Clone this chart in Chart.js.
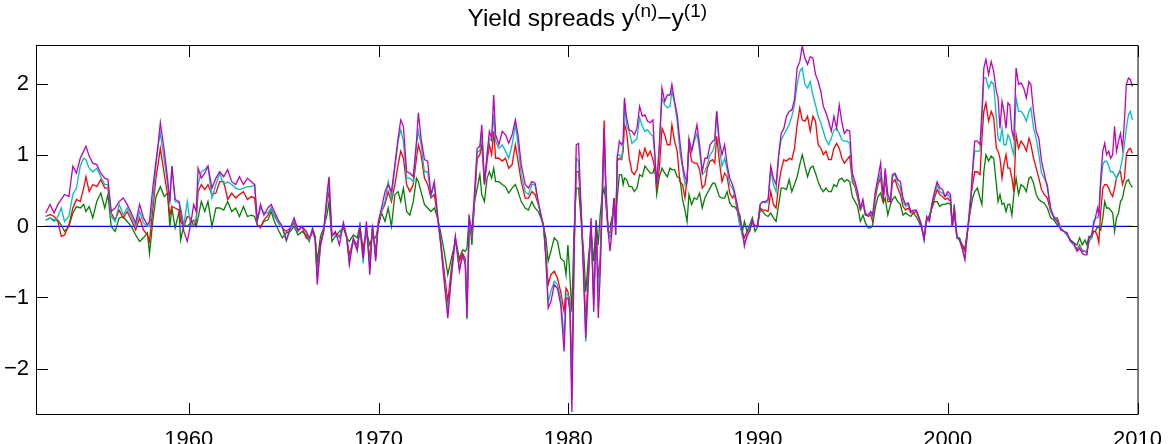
<!DOCTYPE html>
<html>
<head>
<meta charset="utf-8">
<script src="https://cdn.jsdelivr.net/npm/chart.js@4"></script>
<style>
  html, body { margin: 0; padding: 0; background: #fff; }
  #wrap { width: 1175px; height: 444px; }
</style>
</head>
<body>
<div id="wrap"><canvas id="spreads" width="1175" height="444"></canvas></div>
<script>
// Yield spreads y(n) - y(1)
const dates = [
  1952.46, 1952.69, 1952.90, 1953.10, 1953.28, 1953.45, 1953.68, 1953.89, 1954.08, 1954.28, 1954.46, 1954.58, 1954.75, 1954.94, 1955.15, 1955.36, 1955.57, 1955.74, 1955.91, 1956.12, 1956.33, 1956.54, 1956.75, 1956.97, 1957.20, 1957.41, 1957.61, 1957.82, 1957.93, 1958.10, 1958.27, 1958.39, 1958.50, 1958.71, 1958.88, 1959.00, 1959.11, 1959.28, 1959.49,
  1959.57, 1959.74, 1959.92, 1960.09, 1960.26, 1960.39, 1960.49, 1960.66, 1960.84, 1961.01, 1961.22, 1961.43, 1961.63, 1961.84, 1962.05, 1962.26, 1962.47, 1962.67, 1962.88, 1963.09, 1963.30, 1963.47, 1963.61, 1963.78, 1963.96, 1964.17, 1964.34, 1964.51, 1964.72, 1964.93, 1965.14, 1965.35, 1965.55, 1965.76, 1965.97, 1966.18, 1966.35, 1966.52, 1966.66, 1966.77,
  1966.94, 1967.11, 1967.28, 1967.39, 1967.54, 1967.72, 1967.94, 1968.15, 1968.32, 1968.46, 1968.67, 1968.88, 1969.02, 1969.19, 1969.36, 1969.54, 1969.68, 1969.85, 1969.99, 1970.16, 1970.34, 1970.51, 1970.68, 1970.86, 1971.03, 1971.17, 1971.31, 1971.48, 1971.65, 1971.83, 1972.00, 1972.10, 1972.24, 1972.42, 1972.59, 1972.76, 1972.94, 1973.11, 1973.28, 1973.46, 1973.65, 1973.84,
  1974.05, 1974.26, 1974.43, 1974.57, 1974.66, 1974.78, 1974.92, 1975.06, 1975.20, 1975.34, 1975.44, 1975.58, 1975.72, 1975.84, 1975.96, 1976.07, 1976.17, 1976.34, 1976.52, 1976.69, 1976.86, 1977.04, 1977.21, 1977.35, 1977.52, 1977.73, 1977.90, 1978.08, 1978.25, 1978.42, 1978.56, 1978.70, 1978.82, 1978.94, 1979.08, 1979.26, 1979.43, 1979.60, 1979.78, 1979.88, 1979.98, 1980.09, 1980.19, 1980.30, 1980.42, 1980.54, 1980.68, 1980.82, 1980.92, 1981.06, 1981.20, 1981.34,
  1981.47, 1981.58, 1981.68, 1981.78, 1981.89, 1981.99, 1982.10, 1982.20, 1982.30, 1982.41, 1982.50, 1982.58, 1982.69, 1982.81, 1982.89, 1982.96, 1983.07, 1983.21, 1983.35, 1983.48, 1983.62, 1983.76, 1983.90, 1984.04, 1984.18, 1984.32, 1984.46, 1984.56, 1984.66, 1984.80, 1984.94, 1985.08, 1985.22, 1985.36, 1985.46, 1985.60, 1985.74, 1985.88, 1986.02, 1986.15, 1986.26, 1986.36, 1986.50, 1986.64, 1986.78, 1986.92, 1987.06, 1987.20, 1987.33, 1987.47, 1987.61, 1987.72, 1987.82, 1987.96, 1988.10, 1988.24, 1988.37, 1988.51, 1988.65,
  1988.76, 1988.90, 1989.04, 1989.18, 1989.28, 1989.42, 1989.56, 1989.70, 1989.84, 1989.98, 1990.11, 1990.25, 1990.39, 1990.53, 1990.67, 1990.81, 1990.95, 1991.09, 1991.22, 1991.36, 1991.50, 1991.64, 1991.78, 1991.92, 1992.06, 1992.20, 1992.33, 1992.47, 1992.61, 1992.75, 1992.89, 1993.03, 1993.17, 1993.31, 1993.44, 1993.58, 1993.72, 1993.86, 1994.00, 1994.14, 1994.28, 1994.42, 1994.55, 1994.69, 1994.83, 1994.97, 1995.11, 1995.25, 1995.39, 1995.53, 1995.66, 1995.80, 1995.94,
  1996.04, 1996.18, 1996.32, 1996.46, 1996.60, 1996.70, 1996.84, 1996.98, 1997.08, 1997.22, 1997.36, 1997.50, 1997.64, 1997.78, 1997.92, 1998.05, 1998.19, 1998.33, 1998.47, 1998.61, 1998.75, 1998.89, 1999.03, 1999.16, 1999.30, 1999.44, 1999.58, 1999.72, 1999.86, 2000.00, 2000.14, 2000.24, 2000.34, 2000.48, 2000.62, 2000.76, 2000.90, 2001.04, 2001.18, 2001.31, 2001.42, 2001.56, 2001.70, 2001.80, 2001.90, 2002.01, 2002.15, 2002.29, 2002.42, 2002.56,
  2002.65, 2002.75, 2002.86, 2002.96, 2003.07, 2003.17, 2003.27, 2003.38, 2003.48, 2003.60, 2003.73, 2003.86, 2004.00, 2004.14, 2004.28, 2004.38, 2004.52, 2004.66, 2004.80, 2004.94, 2005.08, 2005.25, 2005.42, 2005.60, 2005.77, 2005.95, 2006.12, 2006.29, 2006.47, 2006.64, 2006.81, 2006.95, 2007.09, 2007.23, 2007.33, 2007.44, 2007.58, 2007.68, 2007.78, 2007.89, 2007.96, 2008.06, 2008.17, 2008.27, 2008.37, 2008.48, 2008.58, 2008.69, 2008.79, 2008.89, 2009.00, 2009.10, 2009.21, 2009.31, 2009.41, 2009.52, 2009.62, 2009.73
];

// n = 2 (green)
const spread2 = [
  0.09, 0.12, 0.09, 0.09, 0.02, -0.07, 0, 0.19, 0.28, 0.26, 0.31, 0.21, 0.28, 0.12, 0.35, 0.47, 0.26, 0.45, 0, -0.07, 0.12, 0.14, 0.07, 0, -0.12, -0.21, -0.16, -0.09, -0.38, 0.07, 0.42, 0.49, 0.56, 0.42, 0.47, 0, 0.26, -0.02, 0.21,
  -0.19, 0.02, 0, 0.05, 0.09, 0, 0.12, 0.35, 0.21, 0.35, 0, 0.26, 0.26, 0.23, 0.35, 0.21, 0.26, 0.14, 0.28, 0.14, 0.16, 0.14, 0.02, 0, 0.07, 0.09, 0.21, 0.07, -0.05, -0.16, -0.09, -0.07, 0, -0.12, -0.07, -0.12, -0.21, -0.02, -0.14, -0.49,
  -0.14, -0.02, 0.16, 0.35, -0.21, -0.14, -0.07, -0.02, -0.16, -0.21, -0.12, -0.16, 0.02, -0.35, -0.07, -0.26, -0.14, -0.16, 0.02, 0.19, 0.07, 0.26, 0, 0.45, 0.49, 0.35, 0.54, 0.21, 0.16, 0.35, 0.68, 0.63, 0.49, 0.31, 0.26, 0.21, 0.26, 0.12, -0.09, -0.35, -0.68, -0.45,
  -0.21, -0.45, -0.33, -0.35, -0.31, 0.16, -0.26, 0.35, 0.54, 0.73, 0.45, 0.35, 0.68, 0.77, 0.68, 0.82, 0.63, 0.63, 0.59, 0.56, 0.47, 0.54, 0.59, 0.49, 0.35, 0.26, 0.23, 0.35, 0.26, 0.21, 0.12, 0, -0.16, -0.49, -0.35, -0.16, -0.21, -0.45, -0.49, -0.68, -0.26, -0.73, -1.20, -0.07, 0.54, 0.54, 0.07, -0.40, -0.92, -0.45, -0.07, -0.49,
  0.09, -0.26, 0.16, 0.42, 0.54, 0.31, -0.02, 0, 0.12, 0.21, 0.07, 0.40, 0.73, 0.73, 0.59, 0.68, 0.66, 0.56, 0.56, 0.49, 0.54, 0.73, 0.70, 0.85, 0.80, 0.75, 0.75, 0.85, 0.45, 0.70, 0.82, 0.75, 0.70, 0.82, 0.80, 0.80, 0.70, 0.68, 0.38, 0.23, 0.07, 0.45, 0.31, 0.40, 0.38, 0.47, 0.26, 0.40, 0.47, 0.54, 0.61, 0.61, 0.54, 0.42, 0.40, 0.40, 0.49, 0.33, 0.28,
  0.28, 0.23, 0.16, -0.07, 0.07, -0.07, 0.02, 0.12, -0.07, 0, 0.23, 0.21, 0.16, 0.14, 0.19, 0.12, 0.07, 0.31, 0.54, 0.54, 0.52, 0.66, 0.49, 0.59, 0.70, 0.87, 1.01, 0.85, 0.70, 0.82, 0.85, 0.75, 0.63, 0.54, 0.49, 0.54, 0.49, 0.49, 0.59, 0.56, 0.66, 0.68, 0.63, 0.66, 0.63, 0.42, 0.35, 0.28, 0.07, 0.16, 0.05, -0.02, -0.02,
  0.02, 0.26, 0.42, 0.47, 0.33, 0.40, 0.16, 0.31, 0.38, 0.42, 0.35, 0.31, 0.16, 0.19, 0.16, 0.14, 0.19, 0.14, 0.07, -0.02, -0.16, 0.07, 0.16, 0.26, 0.35, 0.35, 0.28, 0.31, 0.31, 0.33, 0.31, 0, 0.31, -0.16, -0.16, -0.26, -0.31, -0.05, 0.21, 0.40, 0.49, 0.54, 0.40, 0.31, 0.77, 1.01, 0.92, 0.99, 0.96, 0.59,
  0.35, 0.45, 0.31, 0.33, 0.21, 0.31, 0.31, 0.16, 0.45, 0.68, 0.45, 0.59, 0.56, 0.49, 0.68, 0.70, 0.61, 0.45, 0.38, 0.35, 0.33, 0.26, 0.12, 0.09, 0.02, -0.02, -0.07, -0.12, -0.19, -0.23, -0.26, -0.16, -0.26, -0.19, -0.26, -0.14, -0.16, -0.07, -0.07, 0, -0.02, -0.05, 0.12, 0.35, 0.26, 0.26, 0.23, 0.19, -0.07, 0.12, 0.19, 0.35, 0.40, 0.54, 0.63, 0.66, 0.59, 0.55
];

// n = 3 (red)
const spread3 = [
  0.14, 0.17, 0.14, 0.07, -0.14, -0.12, 0.02, 0.26, 0.38, 0.35, 0.54, 0.70, 0.49, 0.59, 0.56, 0.66, 0.54, 0.54, 0.19, 0.09, 0.23, 0.12, 0.21, 0.09, -0.05, 0.12, -0.05, -0.12, -0.21, 0.23, 0.68, 0.89, 1.10, 0.73, 0.45, 0.16, 0.28, 0.26, 0.23,
  0.07, 0, 0.14, 0.12, 0, 0.07, 0.49, 0.59, 0.52, 0.59, 0.45, 0.47, 0.63, 0.63, 0.38, 0.47, 0.40, 0.45, 0.49, 0.38, 0.42, 0.40, 0.02, -0.02, 0.09, 0.16, 0.26, 0.16, 0.05, -0.02, -0.07, -0.02, 0.05, -0.07, 0, -0.16, -0.19, -0.07, -0.19, -0.68,
  -0.23, -0.05, 0.35, 0.49, -0.12, -0.09, -0.14, 0, -0.14, -0.40, -0.19, -0.26, -0.07, -0.31, -0.07, -0.45, -0.02, -0.35, 0.02, 0.21, 0.31, 0.49, 0.35, 0.59, 0.87, 1.06, 0.96, 0.59, 0.49, 0.59, 0.96, 1.15, 1.01, 0.68, 0.59, 0.40, 0.45, 0.12, -0.21, -0.63, -1.06, -0.59,
  -0.16, -0.49, -0.38, -0.45, -1.10, 0.02, -0.14, 0.35, 0.96, 1.01, 1.15, 0.59, 0.92, 1.15, 1.01, 1.34, 0.96, 0.96, 0.92, 0.96, 0.82, 0.87, 1.15, 0.92, 0.63, 0.40, 0.40, 0.49, 0.45, 0.31, 0.16, 0, -0.40, -0.82, -0.68, -0.63, -0.73, -0.92, -1.20, -0.87, -0.92, -1.06, -2.14, -0.35, 0.77, 0.77, 0.21, -0.63, -1.38, -0.63, 0.02, -1.01,
  -0.05, -0.73, -0.45, 0.45, 1.49, 0.31, -0.07, -0.09, 0.07, 0.40, 0.02, 0.92, 0.96, 0.94, 1.06, 1.43, 1.34, 0.96, 0.77, 0.73, 0.80, 1.06, 0.96, 1.10, 0.99, 1.06, 0.94, 0.82, 0.56, 0.82, 1.38, 1.29, 1.15, 1.15, 1.43, 1.20, 1.06, 0.63, 0.59, 0.40, 0.68, 1.15, 0.92, 0.89, 0.89, 0.80, 0.54, 0.59, 0.82, 0.92, 0.94, 0.89, 1.27, 0.92, 0.63, 0.75, 0.70, 0.47, 0.40,
  0.45, 0.23, 0.02, -0.09, -0.16, -0.07, -0.05, 0.05, 0, 0.02, 0.26, 0.23, 0.23, 0.21, 0.49, 0.31, 0.26, 0.59, 0.80, 0.94, 0.92, 0.96, 0.94, 1.10, 1.43, 1.67, 1.50, 1.48, 1.55, 1.34, 1.55, 1.48, 1.15, 1.10, 1.01, 1.06, 0.94, 0.94, 1.10, 1.17, 1.10, 0.96, 0.89, 0.94, 0.99, 0.63, 0.56, 0.40, 0.23, 0.31, 0.19, 0.14, 0.16,
  0.07, 0.40, 0.59, 0.68, 0.35, 0.68, 0.35, 0.35, 0.61, 0.66, 0.54, 0.45, 0.28, 0.23, 0.26, 0.19, 0.19, 0.21, 0.12, 0, -0.16, 0.12, 0.12, 0.26, 0.40, 0.52, 0.45, 0.42, 0.38, 0.40, 0.35, 0, 0.26, -0.16, -0.19, -0.26, -0.35, -0.07, 0.35, 0.59, 0.77, 0.77, 0.73, 1.24, 1.62, 1.74, 1.48, 1.62, 1.53, 1.10,
  1.06, 0.96, 0.68, 0.87, 1.01, 0.82, 0.82, 0.68, 0.49, 1.29, 1.10, 1.20, 1.15, 1.06, 1.24, 1.15, 0.96, 0.82, 0.68, 0.52, 0.45, 0.40, 0.21, 0.12, 0.12, -0.02, -0.07, -0.12, -0.21, -0.26, -0.33, -0.26, -0.35, -0.35, -0.35, -0.21, -0.16, -0.07, -0.07, -0.14, -0.23, 0.21, 0.54, 0.59, 0.59, 0.54, 0.47, 0.42, 0.54, 0.68, 0.75, 0.77, 0.59, 0.68, 1.01, 1.08, 1.10, 1.03
];

// n = 4 (cyan)
const spread4 = [
  0.09, 0.12, 0.07, 0.14, 0.26, 0.07, 0.14, 0.45, 0.54, 0.85, 0.96, 0.94, 0.82, 0.77, 0.82, 0.70, 0.59, 0.59, 0.14, 0.07, 0.31, 0.16, 0.26, 0.14, 0, 0.21, 0.05, 0, 0, 0.35, 0.85, 1.15, 1.31, 0.92, 0.59, 0.31, 0.85, 0.35, 0.33,
  0.26, 0.02, 0.35, 0.02, 0.02, 0.12, 0.59, 0.77, 0.80, 0.85, 0.40, 0.59, 0.75, 0.59, 0.63, 0.59, 0.54, 0.52, 0.54, 0.56, 0.56, 0.59, 0.07, 0.26, 0.19, 0.19, 0.26, 0.14, 0.05, -0.02, -0.21, -0.05, 0.09, -0.07, 0, -0.07, -0.19, -0.05, -0.16, -0.73,
  -0.28, -0.07, 0.35, 0.68, -0.12, -0.12, -0.16, 0.05, -0.14, -0.49, -0.21, -0.35, -0.02, -0.52, 0.02, -0.61, 0.02, -0.45, 0.07, 0.21, 0.35, 0.63, 0.40, 0.82, 1.20, 1.36, 1.20, 0.68, 0.68, 0.63, 1.15, 1.34, 1.15, 0.77, 0.77, 0.42, 0.59, 0.16, -0.26, -0.73, -1.20, -0.73,
  -0.16, -0.59, -0.42, -0.49, -1.31, 0.07, -0.12, 0.40, 1.06, 1.06, 1.34, 0.63, 1.01, 1.24, 1.20, 1.57, 1.20, 1.10, 1.15, 1.06, 0.96, 1.15, 1.43, 1.15, 0.73, 0.49, 0.45, 0.59, 0.59, 0.31, 0.16, 0, -0.45, -1.06, -0.92, -0.77, -0.82, -1.01, -1.57, -0.96, -0.96, -1.15, -2.42, -0.49, 0.96, 0.92, 0.21, -0.73, -1.62, -0.73, 0.07, -1.10,
  -0.07, -0.92, -0.54, 0.31, 1.20, 0.40, -0.07, -0.16, 0.02, 0.31, -0.12, 1.01, 1.01, 0.96, 1.15, 1.76, 1.41, 1.34, 1.17, 1.20, 1.24, 1.53, 1.41, 1.34, 1.36, 1.31, 1.27, 1.01, 0.59, 1.15, 1.81, 1.71, 1.67, 1.69, 1.90, 1.74, 1.48, 1.06, 0.82, 0.59, 0.68, 1.20, 1.06, 1.20, 1.31, 1.06, 0.73, 0.77, 0.87, 1.01, 1.06, 1.15, 1.62, 1.10, 0.85, 0.96, 0.80, 0.59, 0.54,
  0.45, 0.28, 0.02, -0.14, -0.21, -0.16, -0.02, 0.07, 0, 0.02, 0.31, 0.35, 0.33, 0.35, 0.80, 0.59, 0.49, 1.01, 1.22, 1.29, 1.36, 1.43, 1.55, 1.71, 2.00, 2.18, 2.23, 2.00, 1.95, 2.04, 1.85, 1.71, 1.55, 1.46, 1.34, 1.22, 1.15, 1.24, 1.36, 1.38, 1.31, 1.22, 1.20, 1.20, 1.17, 0.68, 0.59, 0.45, 0.26, 0.31, 0.16, 0.16, 0.19,
  0.12, 0.45, 0.63, 0.75, 0.40, 0.77, 0.40, 0.35, 0.70, 0.73, 0.61, 0.54, 0.35, 0.28, 0.31, 0.21, 0.21, 0.23, 0.14, 0.02, -0.19, 0.12, 0.09, 0.31, 0.45, 0.59, 0.49, 0.47, 0.42, 0.45, 0.40, 0, 0.23, -0.16, -0.19, -0.31, -0.45, -0.07, 0.26, 0.77, 1.06, 1.06, 1.06, 1.48, 2.09, 2.09, 1.95, 2.04, 2.00, 1.53,
  1.24, 1.20, 1.38, 1.15, 1.15, 1.29, 1.24, 1.10, 1.01, 1.81, 1.62, 1.62, 1.57, 1.48, 1.62, 1.67, 1.38, 1.24, 1.01, 0.75, 0.68, 0.59, 0.21, 0.14, 0.09, -0.02, -0.07, -0.12, -0.21, -0.26, -0.31, -0.28, -0.33, -0.35, -0.38, -0.21, -0.16, 0.07, 0.12, 0.12, 0.16, 0.59, 0.87, 0.92, 0.92, 0.85, 0.77, 0.77, 0.73, 0.68, 0.73, 0.82, 0.96, 1.15, 1.38, 1.57, 1.62, 1.50
];

// n = 5 (magenta)
const spread5 = [
  0.19, 0.31, 0.19, 0.31, 0.38, 0.45, 0.42, 0.85, 0.75, 0.96, 1.06, 1.13, 0.99, 0.89, 0.87, 0.75, 0.68, 0.66, 0.21, 0.26, 0.35, 0.40, 0.31, 0.19, 0.05, 0.31, 0.12, 0.02, 0.07, 0.54, 0.92, 1.17, 1.46, 1.06, 0.68, 0.35, 0.85, 0.38, 0.35,
  0.21, -0.07, -0.21, 0.02, 0.31, 0.21, 0.82, 0.68, 0.75, 0.85, 0.54, 0.68, 0.77, 0.70, 0.80, 0.63, 0.59, 0.70, 0.59, 0.68, 0.63, 0.59, 0.09, 0.31, 0.16, 0.26, 0.31, 0.21, 0.09, 0, -0.19, -0.02, 0.12, -0.05, 0, -0.07, -0.16, -0.05, -0.16, -0.82,
  -0.26, -0.07, 0.45, 0.70, -0.14, -0.07, -0.26, 0.05, -0.16, -0.54, -0.16, -0.33, 0, -0.45, 0.07, -0.68, 0.02, -0.49, 0.07, 0.26, 0.49, 0.59, 0.49, 0.87, 1.24, 1.50, 1.41, 0.77, 0.75, 0.70, 1.20, 1.60, 1.24, 0.94, 0.92, 0.45, 0.63, 0.16, -0.26, -0.77, -1.29, -0.68,
  -0.14, -0.63, -0.40, -0.54, -1.29, 0.12, -0.07, 0.49, 1.10, 1.13, 1.43, 0.59, 1.01, 1.34, 1.24, 1.85, 1.29, 1.15, 1.34, 1.29, 1.17, 1.29, 1.50, 1.29, 0.87, 0.59, 0.54, 0.63, 0.61, 0.35, 0.16, 0, -0.45, -1.15, -1.06, -0.82, -0.87, -1.10, -1.76, -1.01, -1.01, -1.20, -2.61, -0.49, 1.15, 1.17, 0.21, -0.82, -1.57, -0.73, 0.12, -1.20,
  0.07, -1.29, -0.68, 0.21, 1.38, 0.54, -0.07, -0.35, -0.07, 0.40, -0.12, 0.96, 1.20, 1.15, 1.20, 1.81, 1.53, 1.36, 1.34, 1.29, 1.38, 1.69, 1.55, 1.57, 1.48, 1.46, 1.50, 1.01, 0.59, 1.15, 1.95, 1.76, 1.85, 1.85, 2.00, 1.76, 1.57, 1.20, 0.87, 0.70, 0.63, 1.24, 1.06, 1.24, 1.43, 1.15, 0.77, 0.96, 0.96, 1.15, 1.20, 1.22, 1.62, 1.20, 1.01, 1.15, 0.87, 0.68, 0.59,
  0.49, 0.31, 0.12, -0.07, -0.28, -0.12, -0.07, 0.09, 0, 0.02, 0.31, 0.35, 0.35, 0.38, 0.85, 0.68, 0.59, 1.01, 1.31, 1.38, 1.55, 1.62, 1.64, 1.78, 2.23, 2.32, 2.54, 2.37, 2.28, 2.39, 2.37, 2.14, 2.04, 1.90, 1.69, 1.60, 1.48, 1.34, 1.55, 1.38, 1.71, 1.46, 1.31, 1.36, 1.34, 0.75, 0.63, 0.49, 0.26, 0.38, 0.16, 0.16, 0.21,
  0.16, 0.49, 0.68, 0.89, 0.40, 0.82, 0.45, 0.35, 0.73, 0.75, 0.66, 0.63, 0.40, 0.31, 0.33, 0.21, 0.23, 0.23, 0.14, 0.02, -0.19, 0.14, 0.07, 0.31, 0.49, 0.63, 0.54, 0.52, 0.42, 0.49, 0.45, 0, 0.23, -0.14, -0.19, -0.31, -0.47, -0.07, 0.26, 0.82, 1.20, 1.20, 1.15, 1.62, 2.23, 2.35, 2.14, 2.32, 2.18, 1.90,
  1.81, 1.38, 1.76, 1.62, 1.38, 1.74, 1.71, 1.34, 1.24, 2.23, 2.00, 2.02, 1.95, 1.81, 2.04, 2.00, 1.62, 1.34, 1.24, 0.92, 0.75, 0.54, 0.26, 0.12, 0.07, -0.05, -0.07, -0.09, -0.21, -0.23, -0.35, -0.31, -0.38, -0.40, -0.40, -0.16, -0.12, 0.02, 0.12, 0.26, 0.16, 0.68, 1.06, 1.17, 1.01, 1.06, 0.96, 1.01, 1.41, 1.06, 1.20, 1.31, 1.10, 1.48, 2.00, 2.09, 2.07, 1.97
];

// n = 1 spread is identically zero (blue line)
const spread1 = [0, 0];

const xTicks = [1960, 1970, 1980, 1990, 2000, 2010];
const yTicks = [-2, -1, 0, 1, 2];

const FONT = "'Liberation Sans', Arial, Helvetica, sans-serif";

function points(values) {
    return values.map((v, i) => ({ x: dates[i], y: v }));
}

function series(label, data, color, order) {
    return {
        label: label,
        data: data,
        borderColor: color,
        borderWidth: 1.3,
        pointRadius: 0,
        tension: 0,
        fill: false,
        order: order
    };
}

// axes box, inward ticks and the title with superscripts
const matlabFrame = {
    id: 'matlabFrame',
    afterDraw(chart) {
        const { ctx, chartArea: a, scales: { x, y } } = chart;
        const tick = 11;
        ctx.save();
        ctx.strokeStyle = '#000';
        ctx.lineWidth = 1;
        ctx.strokeRect(a.left - 0.5, a.top - 0.5, a.right - a.left + 1, a.bottom - a.top + 1);
        ctx.beginPath();
        xTicks.forEach(v => {
            const px = Math.round(x.getPixelForValue(v)) + 0.5;
            ctx.moveTo(px, a.bottom);
            ctx.lineTo(px, a.bottom - tick);
            ctx.moveTo(px, a.top);
            ctx.lineTo(px, a.top + tick);
        });
        yTicks.forEach(v => {
            const py = Math.round(y.getPixelForValue(v)) + 0.5;
            ctx.moveTo(a.left, py);
            ctx.lineTo(a.left + tick, py);
            ctx.moveTo(a.right, py);
            ctx.lineTo(a.right - tick, py);
        });
        ctx.stroke();

        const parts = [
            { text: 'Yield spreads y', size: 24.5, rise: 0 },
            { text: '(n)', size: 19, rise: 9.5 },
            { text: '\u2212y', size: 24.5, rise: 0 },
            { text: '(1)', size: 19, rise: 9.5 }
        ];
        let total = 0;
        parts.forEach(p => {
            ctx.font = p.size + 'px ' + FONT;
            p.w = ctx.measureText(p.text).width;
            total += p.w;
        });
        let tx = (a.left + a.right) / 2 - total / 2;
        const base = 26;
        ctx.fillStyle = '#000';
        ctx.textBaseline = 'alphabetic';
        ctx.textAlign = 'left';
        parts.forEach(p => {
            ctx.font = p.size + 'px ' + FONT;
            ctx.fillText(p.text, tx, base - p.rise);
            tx += p.w;
        });
        ctx.restore();
    }
};

new Chart(document.getElementById('spreads'), {
    type: 'line',
    data: {
        datasets: [
            series('n=5', points(spread5), '#bf00bf', 0),
            series('n=4', points(spread4), '#00bfbf', 1),
            series('n=3', points(spread3), '#ff0000', 2),
            series('n=2', points(spread2), '#008000', 3),
            series('n=1', [{ x: dates[0], y: spread1[0] }, { x: dates[dates.length - 1], y: spread1[1] }], '#0000ff', 4)
        ]
    },
    options: {
        responsive: false,
        animation: false,
        layout: { padding: { top: 46, right: 25, left: 0, bottom: 0 } },
        plugins: {
            legend: { display: false },
            tooltip: { enabled: false },
            title: { display: false }
        },
        scales: {
            x: {
                type: 'linear',
                min: 1952,
                max: 2010,
                afterBuildTicks: s => { s.ticks = xTicks.map(v => ({ value: v })); },
                afterFit: s => { s.height = 30; },
                grid: { display: false, drawTicks: false },
                border: { display: false },
                ticks: {
                    padding: 13,
                    color: '#000',
                    autoSkip: false,
                    maxRotation: 0,
                    font: { family: FONT, size: 22 },
                    callback: v => String(v)
                }
            },
            y: {
                type: 'linear',
                min: -2.64,
                max: 2.54,
                afterBuildTicks: s => { s.ticks = yTicks.map(v => ({ value: v })); },
                afterFit: s => { s.width = 37; },
                grid: { display: false, drawTicks: false },
                border: { display: false },
                ticks: {
                    padding: 8,
                    color: '#000',
                    font: { family: FONT, size: 22 },
                    callback: v => (v < 0 ? '\u2212' + (-v) : String(v))
                }
            }
        }
    },
    plugins: [matlabFrame]
});
</script>
</body>
</html>
